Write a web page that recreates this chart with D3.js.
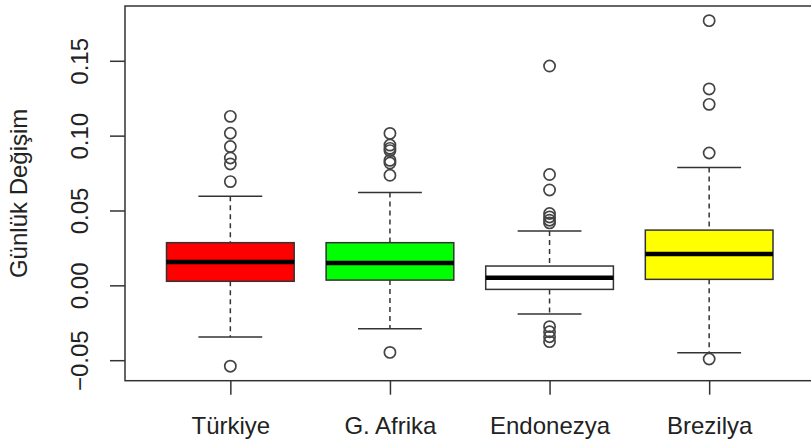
<!DOCTYPE html>
<html>
<head>
<meta charset="utf-8">
<script src="https://cdn.jsdelivr.net/npm/d3@7"></script>
<style>
  body { margin: 0; background: #fff; }
  text { font-family: "Liberation Sans", Arial, sans-serif; fill: #222; }
</style>
</head>
<body>
<div id="chart"></div>
<script>
// values
var countries = ["Türkiye", "G. Afrika", "Endonezya", "Brezilya"]
var fills = ["#ff0000", "#00ff00", "#ffffff", "#ffff00"]
var lowWhisker = [-0.0345, -0.029, -0.0192, -0.045]
var q1 = [0.0027, 0.0035, -0.0027, 0.0040]
var medians = [0.0156, 0.0149, 0.0051, 0.0209]
var q3 = [0.0285, 0.0285, 0.0129, 0.0369]
var highWhisker = [0.0595, 0.062, 0.0363, 0.0787]
var outliers = [
    [0.1129, 0.1016, 0.0927, 0.0851, 0.0811, 0.0693, -0.054],
    [0.1015, 0.0937, 0.0915, 0.090, 0.0835, 0.0817, 0.0735, -0.0448],
    [0.1465, 0.074, 0.0637, 0.048, 0.0457, 0.0435, 0.0417, -0.0276, -0.031, -0.0343, -0.0376],
    [0.1768, 0.1312, 0.1209, 0.0884, -0.0492]
]
var yTicks = [-0.05, 0, 0.05, 0.10, 0.15]
var yTitle = "Günlük Değişim"

var width = 811, height = 443
var mLeft = 125, mRight = 814.5, mTop = 6, mBottom = 380.7

var svg = d3.select("#chart").append("svg")
    .attr("width", width)
    .attr("height", height)

var x = d3.scaleLinear().domain([0.34, 4.66]).range([mLeft, mRight])
var y = d3.scaleLinear().domain([-0.0637, 0.1866]).range([mBottom, mTop])

var boxW = x(0.8) - x(0)
var capW = x(0.4) - x(0)
var ink = "#333"

var rows = countries.map(function (c, i) {
    return { name: c, pos: i + 1, fill: fills[i], lo: lowWhisker[i], q1: q1[i], med: medians[i], q3: q3[i], hi: highWhisker[i], out: outliers[i] }
})

var g = svg.selectAll(".box")
    .data(rows)
    .enter()
    .append("g")
    .attr("class", "box")

// dashed whiskers
g.append("line")
    .attr("x1", d => x(d.pos)).attr("x2", d => x(d.pos))
    .attr("y1", d => y(d.hi)).attr("y2", d => y(d.q3))
    .attr("stroke", ink).attr("stroke-width", 1.5).attr("stroke-dasharray", "5,4")
g.append("line")
    .attr("x1", d => x(d.pos)).attr("x2", d => x(d.pos))
    .attr("y1", d => y(d.q1)).attr("y2", d => y(d.lo))
    .attr("stroke", ink).attr("stroke-width", 1.5).attr("stroke-dasharray", "5,4")

// staples
g.selectAll(".cap")
    .data(d => [d.lo, d.hi].map(v => ({ pos: d.pos, v: v })))
    .enter()
    .append("line")
    .attr("x1", d => x(d.pos) - capW / 2).attr("x2", d => x(d.pos) + capW / 2)
    .attr("y1", d => y(d.v)).attr("y2", d => y(d.v))
    .attr("stroke", ink).attr("stroke-width", 1.5)

g.append("rect")
    .attr("x", d => x(d.pos) - boxW / 2)
    .attr("width", boxW)
    .attr("y", d => y(d.q3))
    .attr("height", d => y(d.q1) - y(d.q3))
    .attr("fill", d => d.fill)
    .attr("stroke", ink)
    .attr("stroke-width", 1.5)

g.append("line")
    .attr("x1", d => x(d.pos) - boxW / 2).attr("x2", d => x(d.pos) + boxW / 2)
    .attr("y1", d => y(d.med)).attr("y2", d => y(d.med))
    .attr("stroke", "#000").attr("stroke-width", 4.5)

g.selectAll(".out")
    .data(d => d.out.map(v => ({ pos: d.pos, v: v })))
    .enter()
    .append("circle")
    .attr("cx", d => x(d.pos))
    .attr("cy", d => y(d.v))
    .attr("r", 5.6)
    .attr("fill", "none")
    .attr("stroke", "#444")
    .attr("stroke-width", 1.7)

// frame
svg.append("rect")
    .attr("x", mLeft).attr("y", mTop)
    .attr("width", mRight - mLeft).attr("height", mBottom - mTop)
    .attr("fill", "none").attr("stroke", ink).attr("stroke-width", 1.5)

// y axis
var yAxis = svg.append("g")
    .attr("transform", "translate(" + mLeft + ",0)")
    .call(d3.axisLeft(y).tickValues(yTicks).tickSize(15).tickFormat(d3.format(".2f")))
yAxis.select(".domain").remove()
yAxis.selectAll("line").attr("stroke", ink).attr("stroke-width", 1.5)
yAxis.selectAll("text")
    .attr("x", null).attr("dy", null)
    .attr("text-anchor", "middle")
    .attr("transform", "translate(-37,0) rotate(-90)")
    .style("font-size", "24px")
    .style("font-family", "Liberation Sans, Arial, sans-serif")
    .attr("fill", "#222")

// x axis
var xAxis = svg.append("g")
    .attr("transform", "translate(0," + mBottom + ")")
    .call(d3.axisBottom(x).tickValues([1, 2, 3, 4]).tickSize(14).tickFormat((d, i) => countries[i]))
xAxis.select(".domain").remove()
xAxis.selectAll("line").attr("stroke", ink).attr("stroke-width", 1.5)
xAxis.selectAll("text")
    .attr("y", 53).attr("dy", null)
    .style("font-size", "24px")
    .style("font-family", "Liberation Sans, Arial, sans-serif")
    .attr("fill", "#222")

svg.append("text")
    .attr("transform", "translate(27," + ((mTop + mBottom) / 2) + ") rotate(-90)")
    .attr("text-anchor", "middle")
    .style("font-size", "24px")
    .text(yTitle)
</script>
</body>
</html>
